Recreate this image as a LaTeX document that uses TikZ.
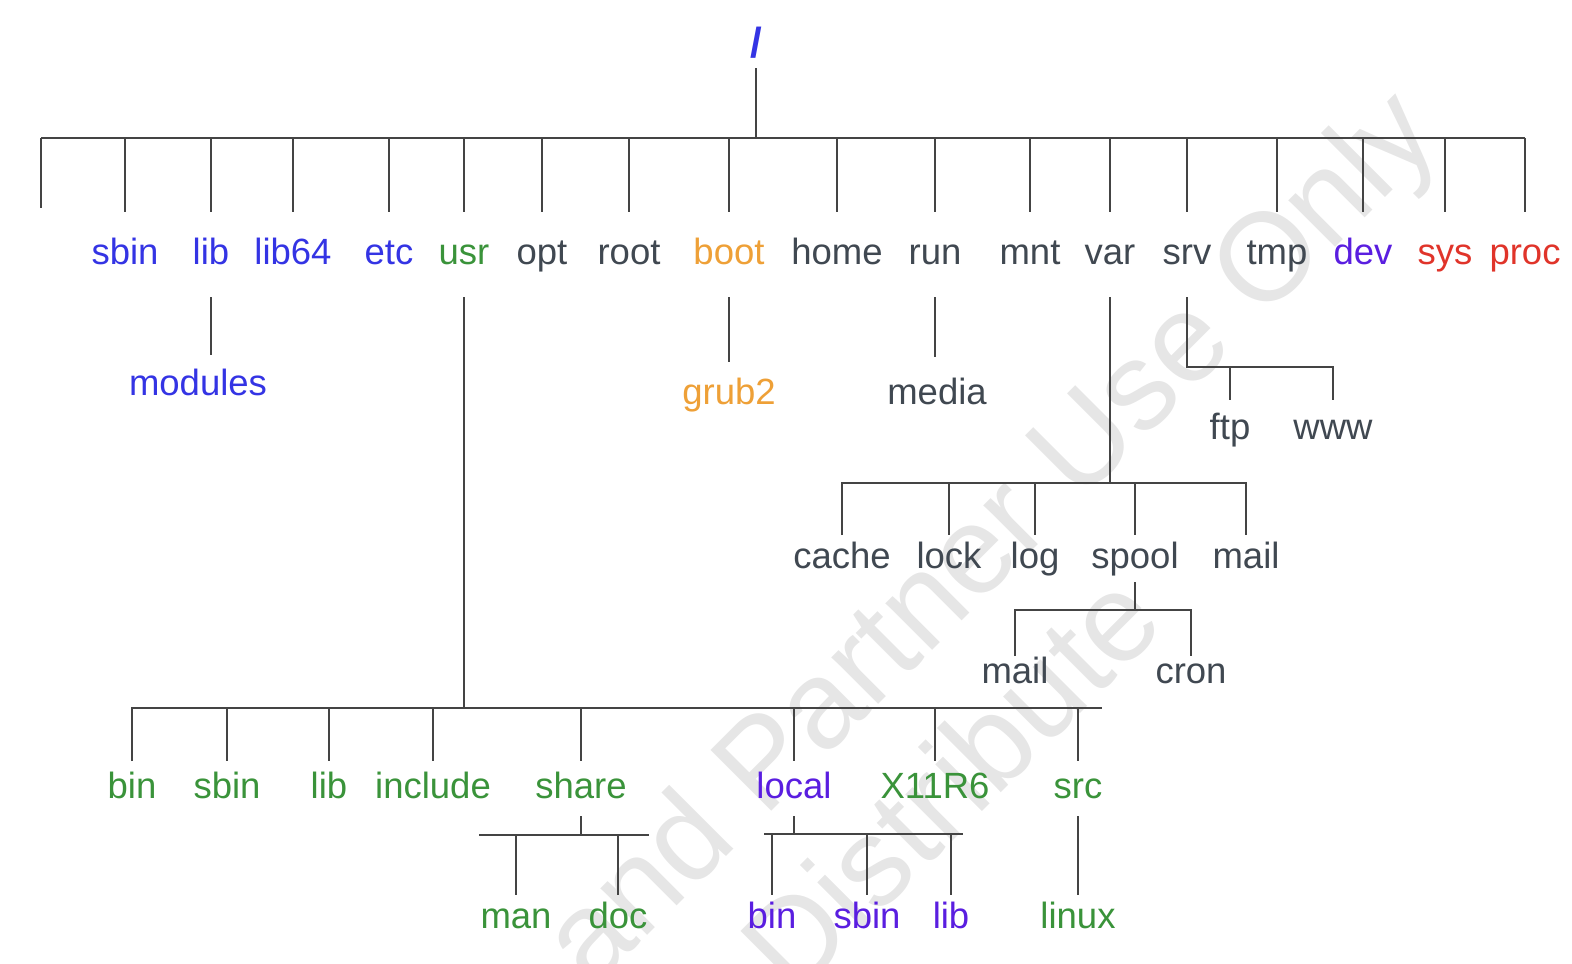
\documentclass[tikz,border=0pt]{standalone}
\usepackage{fontspec}
\setmainfont{Liberation Sans}
\usepackage{tikz}
\usetikzlibrary{scopes,calc}

\definecolor{dirblue}{HTML}{3434E4}
\definecolor{dirgreen}{HTML}{3A933A}
\definecolor{dirgray}{HTML}{404851}
\definecolor{dirorange}{HTML}{EEA037}
\definecolor{dirpurple}{HTML}{5A1EE0}
\definecolor{dirred}{HTML}{E0342A}
\definecolor{wmark}{HTML}{E6E6E6}
\definecolor{branch}{HTML}{444444}

\tikzset{
	dir/.style={font=\fontsize{36.5}{40}\selectfont, text height=27pt, text depth=8pt, inner sep=0pt, outer ysep=6pt, anchor=base},
	top/.style={dir, outer ysep=25pt},
	usrsub/.style={dir, outer ysep=10pt},
	tree/.style={draw=branch, line width=1.3pt},
	wm/.style={font=\fontsize{125}{130}\selectfont, text=wmark, rotate=45, inner sep=0pt, anchor=base east}
}

\begin{document}
\begin{tikzpicture}[x=1pt,y=-1pt]
			\useasboundingbox (0,0) rectangle (1572,964);
			\begin{scope}
			\clip (0,0) rectangle (1572,964);
			\node[wm] (wmonly) at (1443,140) {Only};
			\node[wm] (wmuse) at ($(wmonly.base west)!-34.75pt!(wmonly.base east)$) {Use};
			\node[wm] (wmpartner) at ($(wmuse.base west)!-34.75pt!(wmuse.base east)$) {Partner};
			\node[wm] (wmand) at ($(wmpartner.base west)!-34.75pt!(wmpartner.base east)$) {and};
			\node[wm] (wmdist) at (1168,626) {Distribute};
			\end{scope}
			\node[dir, font=\fontsize{42}{46}\selectfont\bfseries, text=dirblue, text depth=4pt, outer ysep=7pt] (slash) at (756,57) {/};
			\coordinate (topbar) at (0,138);
			\coordinate (blank) at (41,208);
			\node[top, text=dirblue] (sbin) at (125,264) {sbin};
			\node[top, text=dirblue] (lib) at (211,264) {lib};
			\node[top, text=dirblue] (libsf) at (293,264) {lib64};
			\node[top, text=dirblue] (etc) at (389,264) {etc};
			\node[top, text=dirgreen] (usr) at (464,264) {usr};
			\node[top, text=dirgray] (opt) at (542,264) {opt};
			\node[top, text=dirgray] (rootdir) at (629,264) {root};
			\node[top, text=dirorange] (boot) at (729,264) {boot};
			\node[top, text=dirgray] (home) at (837,264) {home};
			\node[top, text=dirgray] (run) at (935,264) {run};
			\node[top, text=dirgray] (mnt) at (1030,264) {mnt};
			\node[top, text=dirgray] (var) at (1110,264) {var};
			\node[top, text=dirgray] (srv) at (1187,264) {srv};
			\node[top, text=dirgray] (tmp) at (1277,264) {tmp};
			\node[top, text=dirpurple] (dev) at (1363,264) {dev};
			\node[top, text=dirred] (sys) at (1445,264) {sys};
			\node[top, text=dirred] (proc) at (1525,264) {proc};
			\draw[tree] (slash.south) -- (slash.south |- topbar);
			\draw[tree] (blank |- topbar) -- (proc.north |- topbar);
			\draw[tree] (blank |- topbar) -- (blank);
			\draw[tree] (sbin.north |- topbar) -- (sbin.north);
			\draw[tree] (lib.north |- topbar) -- (lib.north);
			\draw[tree] (libsf.north |- topbar) -- (libsf.north);
			\draw[tree] (etc.north |- topbar) -- (etc.north);
			\draw[tree] (usr.north |- topbar) -- (usr.north);
			\draw[tree] (opt.north |- topbar) -- (opt.north);
			\draw[tree] (rootdir.north |- topbar) -- (rootdir.north);
			\draw[tree] (boot.north |- topbar) -- (boot.north);
			\draw[tree] (home.north |- topbar) -- (home.north);
			\draw[tree] (run.north |- topbar) -- (run.north);
			\draw[tree] (mnt.north |- topbar) -- (mnt.north);
			\draw[tree] (var.north |- topbar) -- (var.north);
			\draw[tree] (srv.north |- topbar) -- (srv.north);
			\draw[tree] (tmp.north |- topbar) -- (tmp.north);
			\draw[tree] (dev.north |- topbar) -- (dev.north);
			\draw[tree] (sys.north |- topbar) -- (sys.north);
			\draw[tree] (proc.north |- topbar) -- (proc.north);
			\node[dir, text=dirblue, outer ysep=13pt] (modules) at (198,395) {modules};
			\node[dir, text=dirorange, outer ysep=15pt] (grub) at (729,404) {grub2};
			\node[dir, text=dirgray, outer ysep=20pt] (media) at (937,404) {media};
			\draw[tree] (lib.south) -- (lib.south |- modules.north);
			\draw[tree] (boot.south) -- (boot.south |- grub.north);
			\draw[tree] (run.south) -- (run.south |- media.north);
			\coordinate (srvbar) at (0,367);
			\node[dir, text=dirgray, outer ysep=12pt] (ftp) at (1230,439) {ftp};
			\node[dir, text=dirgray, outer ysep=12pt] (www) at (1333,439) {www};
			\draw[tree] (srv.south) -- (srv.south |- srvbar) -- (www.north |- srvbar) -- (www.north);
			\draw[tree] (ftp.north |- srvbar) -- (ftp.north);
			\coordinate (varbar) at (0,483);
			\node[dir, text=dirgray] (cache) at (842,568) {cache};
			\node[dir, text=dirgray] (lock) at (949,568) {lock};
			\node[dir, text=dirgray] (log) at (1035,568) {log};
			\node[dir, text=dirgray] (spool) at (1135,568) {spool};
			\node[dir, text=dirgray] (vmail) at (1246,568) {mail};
			\draw[tree] (var.south) -- (var.south |- varbar);
			\draw[tree] (cache.north) -- (cache.north |- varbar) -- (vmail.north |- varbar) -- (vmail.north);
			\draw[tree] (lock.north |- varbar) -- (lock.north);
			\draw[tree] (log.north |- varbar) -- (log.north);
			\draw[tree] (spool.north |- varbar) -- (spool.north);
			\coordinate (spoolbar) at (0,610);
			\node[dir, text=dirgray, outer ysep=0pt] (smail) at (1015,683) {mail};
			\node[dir, text=dirgray, outer ysep=0pt] (cron) at (1191,683) {cron};
			\draw[tree] (spool.south) -- (spool.south |- spoolbar);
			\draw[tree] (smail.north) -- (smail.north |- spoolbar) -- (cron.north |- spoolbar) -- (cron.north);
			\coordinate (usrbar) at (0,708);
			\coordinate (usrend) at (1102,708);
			\node[usrsub, text=dirgreen] (ubin) at (132,798) {bin};
			\node[usrsub, text=dirgreen] (usbin) at (227,798) {sbin};
			\node[usrsub, text=dirgreen] (ulib) at (329,798) {lib};
			\node[usrsub, text=dirgreen] (include) at (433,798) {include};
			\node[usrsub, text=dirgreen] (share) at (581,798) {share};
			\node[usrsub, text=dirpurple] (local) at (794,798) {local};
			\node[usrsub, text=dirgreen] (xorg) at (935,798) {X11R6};
			\node[usrsub, text=dirgreen] (src) at (1078,798) {src};
			\draw[tree] (usr.south) -- (usr.south |- usrbar);
			\draw[tree] (ubin.north) -- (ubin.north |- usrbar) -- (usrend);
			\draw[tree] (usbin.north |- usrbar) -- (usbin.north);
			\draw[tree] (ulib.north |- usrbar) -- (ulib.north);
			\draw[tree] (include.north |- usrbar) -- (include.north);
			\draw[tree] (share.north |- usrbar) -- (share.north);
			\draw[tree] (local.north |- usrbar) -- (local.north);
			\draw[tree] (xorg.north |- usrbar) -- (xorg.north);
			\draw[tree] (src.north |- usrbar) -- (src.north);
			\coordinate (shareL) at (479,835);
			\coordinate (shareR) at (649,835);
			\coordinate (localL) at (764,834);
			\coordinate (localR) at (963,834);
			\node[dir, text=dirgreen] (man) at (516,928) {man};
			\node[dir, text=dirgreen] (doc) at (618,928) {doc};
			\node[dir, text=dirpurple] (lbin) at (772,928) {bin};
			\node[dir, text=dirpurple] (lsbin) at (867,928) {sbin};
			\node[dir, text=dirpurple] (llib) at (951,928) {lib};
			\node[dir, text=dirgreen] (linux) at (1078,928) {linux};
			\draw[tree] (share.south) -- (share.south |- shareL);
			\draw[tree] (shareL) -- (shareR);
			\draw[tree] (man.north |- shareL) -- (man.north);
			\draw[tree] (doc.north |- shareL) -- (doc.north);
			\draw[tree] (local.south) -- (local.south |- localL);
			\draw[tree] (localL) -- (localR);
			\draw[tree] (lbin.north |- localL) -- (lbin.north);
			\draw[tree] (lsbin.north |- localL) -- (lsbin.north);
			\draw[tree] (llib.north |- localL) -- (llib.north);
			\draw[tree] (src.south) -- (linux.north);
\end{tikzpicture}
\end{document}
